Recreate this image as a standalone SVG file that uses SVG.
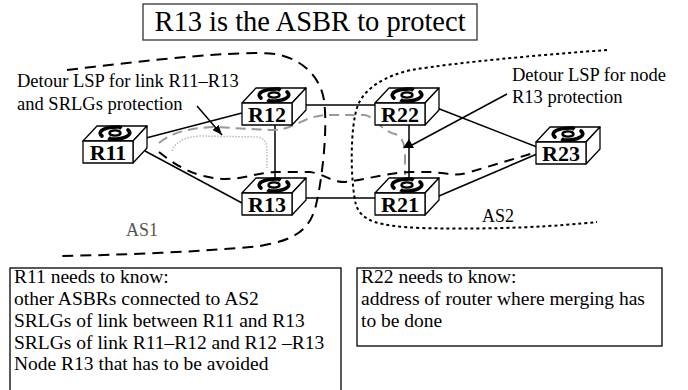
<svg xmlns="http://www.w3.org/2000/svg" xmlns:xlink="http://www.w3.org/1999/xlink" width="688" height="390" viewBox="0 0 688 390" font-family="Liberation Serif, serif">
<style>
text{font-family:Liberation Serif, serif;fill:#000}
.face{fill:#fff;stroke:#000;stroke-width:1.3;stroke-linejoin:round}
.lbl{font-size:22px;font-weight:bold;text-anchor:middle}
.link{stroke:#000;stroke-width:1.5;fill:none}
.note{font-size:18.5px}
.info{font-size:19.5px}
.box{fill:#fff;stroke:#000;stroke-width:1.3}
</style>
<defs>
<marker id="ah" viewBox="0 0 10 8" refX="10" refY="4" markerWidth="10" markerHeight="8" markerUnits="userSpaceOnUse" orient="auto">
<path d="M0,0 L10,4 L0,8 Z" fill="#000"/>
</marker>
<g id="logo">
<path d="M-13,3 C-19,-2 -9,-6.5 5,-6" fill="none" stroke="#000" stroke-width="3.6" stroke-linecap="round"/>
<path d="M13,-3 C19,2 9,6.5 -5,6" fill="none" stroke="#000" stroke-width="3.6" stroke-linecap="round"/>
<path d="M3,-6 L8,-6.5 L5,-3 Z M-3,6 L-8,6.5 L-5,3 Z" fill="#000"/>
<ellipse cx="0" cy="0" rx="5.5" ry="2.6" fill="none" stroke="#000" stroke-width="2.4"/>
</g>
<g id="router">
<polygon class="face" points="0,0 14,-15 64,-15 50,0"/>
<polygon class="face" points="50,0 64,-15 64,7 50,22"/>
<rect class="face" x="0" y="0" width="50" height="22"/>
<use xlink:href="#logo" transform="translate(32,-8)"/>
</g>
</defs>

<rect x="0" y="0" width="688" height="390" fill="#fff"/>

<g id="title">
<rect x="143" y="4" width="334" height="36" fill="#fff" stroke="#333" stroke-width="1.3"/>
<text x="310" y="31" font-size="28.5" text-anchor="middle">R13 is the ASBR to protect</text>
</g>

<g id="regions">
<path id="as1-boundary" d="M67,70 C150,60 240,50 275,54 C300,58 320,75 324,100 C328,130 322,180 316,205 C310,230 295,240 260,246 C200,252 120,255 60,256" fill="none" stroke="#000" stroke-width="2" stroke-dasharray="11,7"/>
<path id="as2-boundary" d="M607,50 C540,55 460,62 411,70 C385,76 365,88 358,105 C350,125 350,180 356,205 C362,222 380,226 420,228 C500,230 560,226 597,222" fill="none" stroke="#000" stroke-width="2" stroke-dasharray="3,3"/>
<text x="126" y="236" font-size="18" style="fill:#555">AS1</text>
<text x="482" y="222" font-size="18">AS2</text>
</g>

<g id="connectors">
<line class="link" x1="146" y1="138" x2="242" y2="113"/>
<line class="link" x1="145" y1="151" x2="242" y2="203"/>
<line class="link" x1="275" y1="125" x2="275" y2="180"/>
<line class="link" x1="306" y1="105" x2="375" y2="105"/>
<line class="link" x1="306" y1="198" x2="375" y2="198"/>
<line class="link" x1="409" y1="125" x2="409" y2="180"/>
<line class="link" x1="437" y1="108" x2="537" y2="147"/>
<line class="link" x1="439" y1="196" x2="537" y2="154"/>
<path id="detour-link" d="M159,143 C170,134 185,128 215,127 L270,130 C285,131 295,124 310,118 C318,116 322,115 330,115 L365,115 C375,117 380,130 395,134 C403,137 405,145 405,155 L405,175" fill="none" stroke="#999" stroke-width="2" stroke-dasharray="10,6"/>
<path id="detour-link-inner" d="M172,151 C176,141 185,137 200,136 L258,137 C264,138 267,143 267,150 L267,168" fill="none" stroke="#bbb" stroke-width="1.5" stroke-dasharray="1.5,1.5"/>
<path id="detour-node" d="M159,152 C175,165 195,178 225,179 C245,179 255,173 275,172 L310,172 C325,174 330,182 345,182 C365,180 385,173 410,172 L430,172 C450,173 455,177 470,172 L537,152" fill="none" stroke="#000" stroke-width="2" stroke-dasharray="10,7"/>
<line class="link" x1="197" y1="106" x2="222" y2="135" marker-end="url(#ah)"/>
<line class="link" x1="507" y1="94" x2="412" y2="145"/>
<polygon points="409,139 403,148 414,148" fill="#000"/>
</g>

<g id="R11"><use xlink:href="#router" x="83" y="141"/><text class="lbl" x="108" y="160">R11</text></g>
<g id="R12"><use xlink:href="#router" x="242" y="103"/><text class="lbl" x="267" y="122">R12</text></g>
<g id="R13"><use xlink:href="#router" x="242" y="193"/><text class="lbl" x="267" y="212">R13</text></g>
<g id="R22"><use xlink:href="#router" x="375" y="103"/><text class="lbl" x="400" y="122">R22</text></g>
<g id="R21"><use xlink:href="#router" x="375" y="193"/><text class="lbl" x="400" y="212">R21</text></g>
<g id="R23"><use xlink:href="#router" x="536" y="142"/><text class="lbl" x="561" y="161">R23</text></g>

<g id="labels">
<text class="note" x="17" y="87">Detour LSP for link R11–R13</text>
<text class="note" x="17" y="110">and SRLGs protection</text>
<text class="note" x="512" y="81">Detour LSP for node</text>
<text class="note" x="512" y="103">R13 protection</text>
</g>

<g id="r11-info">
<rect class="box" x="10" y="268" width="331" height="130"/>
<text class="info" x="14" y="283">R11 needs to know:</text>
<text class="info" x="14" y="305">other ASBRs connected to AS2</text>
<text class="info" x="14" y="327">SRLGs of link between R11 and R13</text>
<text class="info" x="14" y="349">SRLGs of link R11–R12 and R12 –R13</text>
<text class="info" x="14" y="370">Node R13 that has to be avoided</text>
</g>

<g id="r22-info">
<rect class="box" x="357" y="268" width="305" height="78"/>
<text class="info" x="361" y="283">R22 needs to know:</text>
<text class="info" x="361" y="305">address of router where merging has</text>
<text class="info" x="361" y="327">to be done</text>
</g>
</svg>
